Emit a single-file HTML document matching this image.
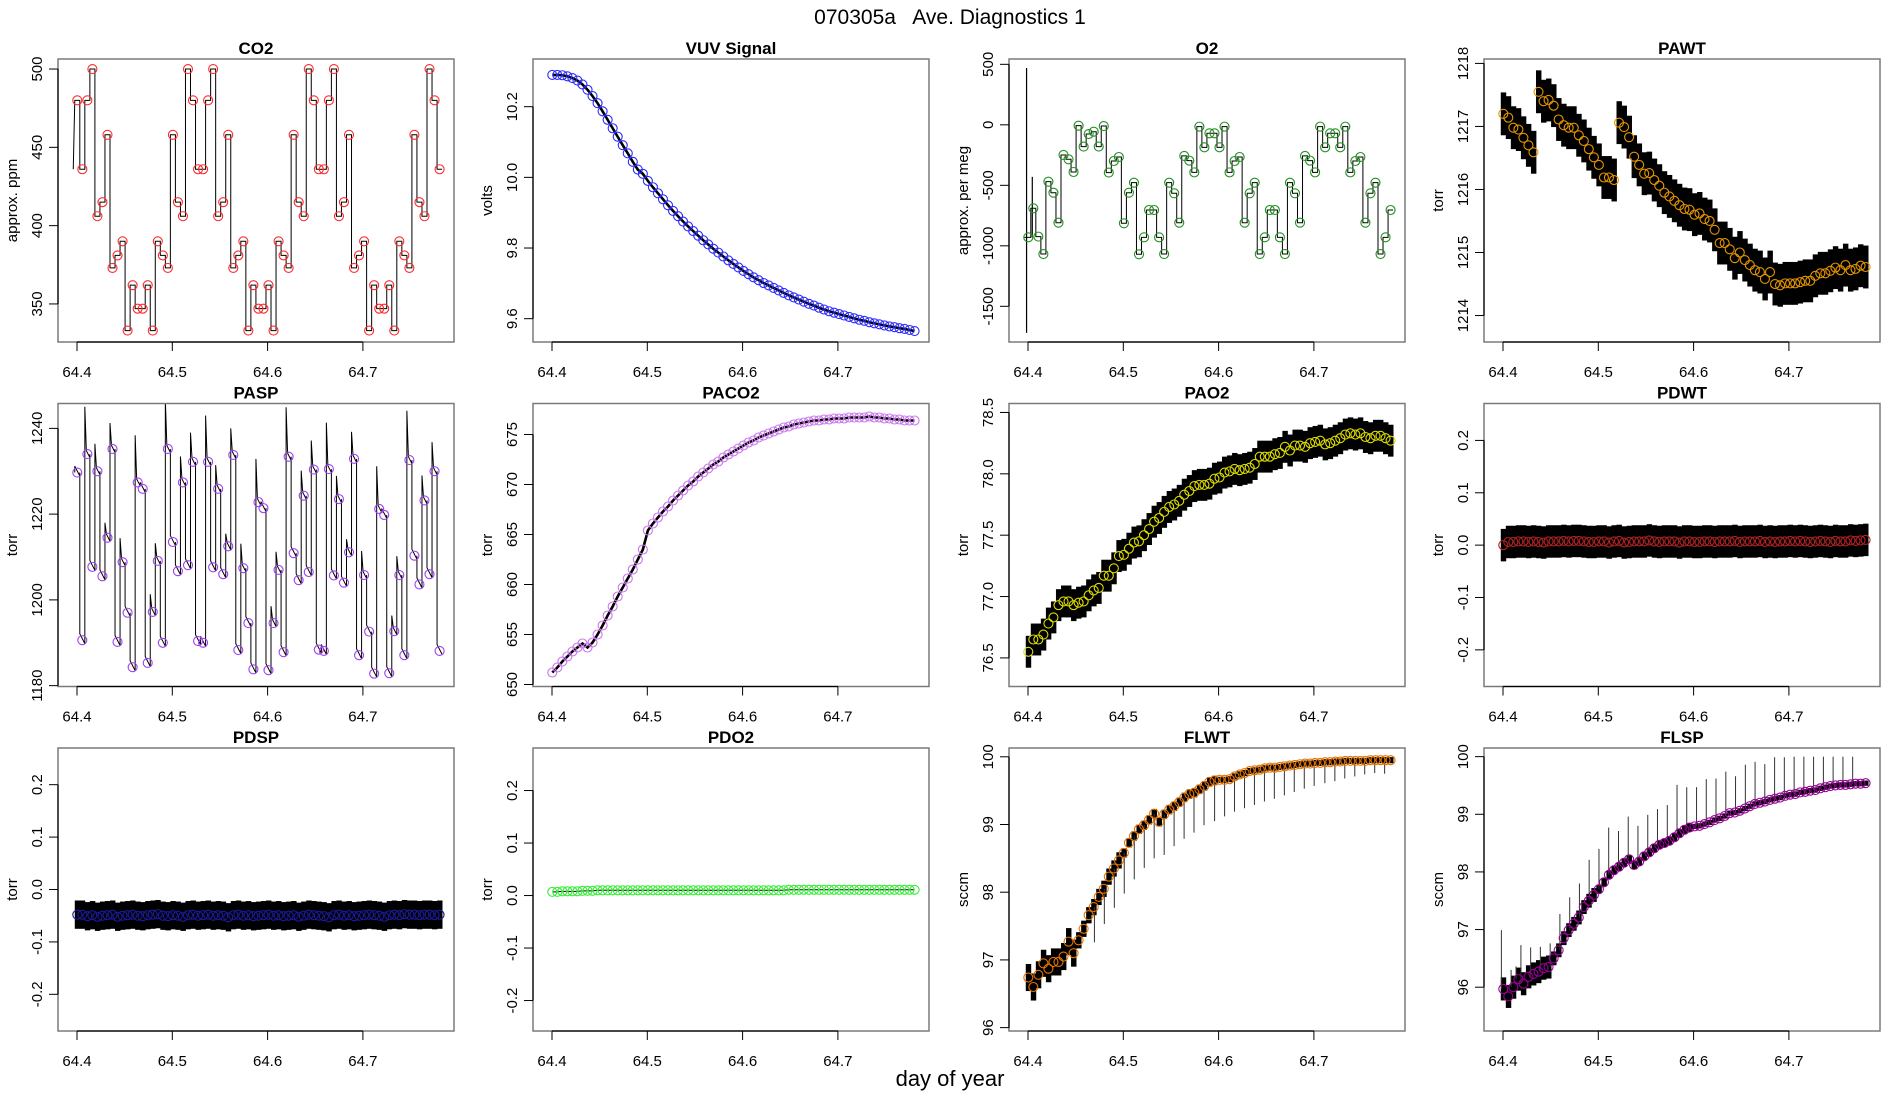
<!DOCTYPE html>
<html><head><meta charset="utf-8"><title>070305a Ave. Diagnostics 1</title>
<style>
html,body{margin:0;padding:0;background:#fff;}
svg{display:block;font-family:"Liberation Sans",Arial,sans-serif;}
</style></head>
<body>
<svg id="fig" width="1900" height="1100" viewBox="0 0 1900 1100" xmlns="http://www.w3.org/2000/svg">
<rect x="0" y="0" width="1900" height="1100" fill="#fff"/>
<text x="950" y="24" text-anchor="middle" font-size="21" xml:space="preserve">070305a   Ave. Diagnostics 1</text>
<text x="950" y="1086" text-anchor="middle" font-size="22">day of year</text>
</svg>
<script>
// ---- data ----
const xTicks = [64.4, 64.5, 64.6, 64.7];
const xTickLabels = ["64.4", "64.5", "64.6", "64.7"];
const tStart = 64.4003;
const tStep = 0.00528;

const co2Vals = [480,436,480,500,406,415,458,373,381,390,333,362,347,347,362,333,390,381,373,458,415,406,500,480,436,436,480,500,406,415,458,373,381,390,333,362,347,347,362,333,390,381,373,458,415,406,500,480,436,436,480,500,406,415,458,373,381,390,333,362,347,347,362,333,390,381,373,458,415,406,500,480,436];
const co2Ticks = [350,400,450,500];
const co2TickLabels = ["350","400","450","500"];

const vuvVals = [10.290,10.290,10.289,10.286,10.281,10.274,10.263,10.248,10.230,10.210,10.187,10.163,10.139,10.115,10.091,10.068,10.044,10.022,10.010,9.990,9.972,9.955,9.938,9.921,9.905,9.890,9.875,9.861,9.848,9.835,9.822,9.810,9.798,9.787,9.776,9.765,9.755,9.745,9.735,9.726,9.717,9.709,9.701,9.694,9.687,9.680,9.673,9.666,9.660,9.654,9.648,9.642,9.637,9.631,9.626,9.621,9.617,9.613,9.609,9.605,9.601,9.597,9.594,9.590,9.587,9.584,9.581,9.578,9.576,9.573,9.571,9.568,9.565];
const vuvTicks = [9.6,9.8,10.0,10.2];
const vuvTickLabels = ["9.6","9.8","10.0","10.2"];

const o2Vals = [-930,-690,-924,-1068,-470,-561,-809,-249,-285,-390,-7,-180,-76,-57,-180,-10,-395,-299,-266,-814,-561,-478,-1070,-930,-704,-704,-930,-1068,-478,-566,-809,-257,-296,-393,-15,-186,-70,-70,-186,-15,-393,-299,-266,-809,-566,-478,-1068,-930,-704,-704,-930,-1068,-478,-566,-809,-257,-296,-393,-15,-186,-70,-70,-186,-15,-393,-299,-266,-809,-566,-478,-1068,-930,-704];
const o2Ticks = [-1500,-1000,-500,0,500];
const o2TickLabels = ["-1500","-1000","-500","0","500"];
const o2SpikeDays = [64.3985, 64.4045];
const o2SpikeLo = [-1720, -930];
const o2SpikeHi = [470, -430];

const pawtVals = [1217.20,1217.14,1216.98,1216.95,1216.82,1216.70,1216.59,1217.55,1217.40,1217.42,1217.33,1217.11,1217.02,1216.98,1216.98,1216.86,1216.77,1216.64,1216.51,1216.39,1216.19,1216.19,1216.15,1217.06,1216.99,1216.83,1216.52,1216.39,1216.25,1216.26,1216.15,1216.06,1215.95,1215.89,1215.82,1215.75,1215.69,1215.68,1215.60,1215.62,1215.53,1215.50,1215.36,1215.15,1215.15,1215.05,1214.91,1215.00,1214.88,1214.80,1214.72,1214.69,1214.58,1214.69,1214.50,1214.48,1214.51,1214.51,1214.51,1214.53,1214.55,1214.55,1214.63,1214.67,1214.67,1214.71,1214.76,1214.72,1214.80,1214.72,1214.74,1214.79,1214.77];
const pawtTicks = [1214,1215,1216,1217,1218];
const pawtTickLabels = ["1214","1215","1216","1217","1218"];

const paspVals = [1229.7,1190.6,1234.0,1207.7,1230.0,1205.5,1214.5,1235.2,1190.2,1208.8,1197.0,1184.3,1227.4,1225.9,1185.3,1197.2,1209.1,1190.0,1235.2,1213.5,1206.7,1227.4,1208.1,1232.2,1190.4,1190.0,1232.2,1207.6,1225.9,1206.0,1212.5,1233.8,1188.3,1207.4,1194.6,1183.8,1222.8,1221.4,1183.6,1194.6,1207.0,1187.8,1233.4,1210.9,1204.6,1224.3,1206.5,1230.4,1188.4,1188.1,1230.5,1205.7,1223.5,1204.0,1211.1,1232.9,1187.1,1205.8,1192.6,1182.8,1221.2,1219.8,1182.9,1192.7,1205.8,1187.1,1232.6,1210.3,1203.6,1223.2,1206.0,1230.0,1188.1];
const paspTicks = [1180,1200,1220,1240];
const paspTickLabels = ["1180","1200","1220","1240"];

const paco2Vals = [651.2,651.7,652.3,652.8,653.3,653.7,654.1,653.7,654.2,655.0,655.9,656.9,657.8,658.8,659.7,660.6,661.5,662.5,663.5,665.4,666.1,666.7,667.3,667.8,668.4,668.9,669.4,669.9,670.3,670.8,671.2,671.6,672.0,672.3,672.7,673.0,673.3,673.6,673.9,674.2,674.4,674.7,674.9,675.1,675.3,675.5,675.7,675.8,676.0,676.1,676.2,676.3,676.4,676.4,676.5,676.5,676.6,676.6,676.6,676.7,676.7,676.7,676.7,676.8,676.7,676.7,676.6,676.6,676.5,676.5,676.4,676.4,676.4];
const paco2Ticks = [650,655,660,665,670,675];
const paco2TickLabels = ["650","655","660","665","670","675"];

const pao2Vals = [76.55,76.65,76.65,76.69,76.78,76.83,76.93,76.96,76.96,76.93,76.95,76.96,77.01,77.05,77.07,77.17,77.17,77.23,77.33,77.34,77.39,77.44,77.45,77.50,77.55,77.61,77.64,77.69,77.73,77.75,77.78,77.83,77.86,77.90,77.91,77.91,77.92,77.96,77.97,78.01,78.02,78.04,78.03,78.04,78.05,78.08,78.14,78.14,78.14,78.16,78.17,78.22,78.19,78.23,78.23,78.22,78.25,78.26,78.27,78.24,78.25,78.27,78.29,78.32,78.33,78.32,78.33,78.30,78.29,78.31,78.31,78.29,78.27];
const pao2Ticks = [76.5,77.0,77.5,78.0,78.5];
const pao2TickLabels = ["76.5","77.0","77.5","78.0","78.5"];

const pdwtVals = [0.000,0.006,0.006,0.007,0.007,0.006,0.007,0.006,0.005,0.007,0.007,0.007,0.008,0.007,0.008,0.008,0.007,0.006,0.006,0.007,0.007,0.005,0.007,0.008,0.005,0.006,0.007,0.007,0.007,0.009,0.007,0.006,0.007,0.007,0.007,0.005,0.007,0.007,0.006,0.006,0.007,0.007,0.006,0.007,0.007,0.007,0.008,0.006,0.007,0.007,0.007,0.008,0.006,0.007,0.006,0.007,0.007,0.008,0.007,0.008,0.007,0.006,0.007,0.008,0.007,0.006,0.008,0.007,0.007,0.009,0.008,0.009,0.010];
const pdspVals = [-0.048,-0.048,-0.051,-0.049,-0.052,-0.050,-0.049,-0.048,-0.052,-0.050,-0.049,-0.048,-0.050,-0.051,-0.049,-0.048,-0.047,-0.050,-0.051,-0.049,-0.050,-0.052,-0.049,-0.048,-0.050,-0.049,-0.048,-0.050,-0.049,-0.050,-0.053,-0.049,-0.048,-0.050,-0.049,-0.051,-0.050,-0.049,-0.048,-0.050,-0.049,-0.051,-0.050,-0.049,-0.052,-0.050,-0.048,-0.049,-0.050,-0.051,-0.053,-0.049,-0.048,-0.050,-0.049,-0.051,-0.050,-0.049,-0.048,-0.049,-0.050,-0.052,-0.049,-0.048,-0.049,-0.047,-0.048,-0.048,-0.049,-0.048,-0.048,-0.049,-0.048];
const pdo2Vals = [0.007,0.007,0.008,0.008,0.008,0.008,0.009,0.009,0.009,0.010,0.010,0.010,0.010,0.010,0.010,0.010,0.010,0.010,0.010,0.010,0.010,0.010,0.010,0.010,0.010,0.010,0.010,0.010,0.010,0.010,0.010,0.010,0.010,0.010,0.010,0.010,0.010,0.010,0.010,0.010,0.010,0.010,0.010,0.010,0.010,0.010,0.010,0.011,0.011,0.011,0.011,0.011,0.011,0.011,0.011,0.011,0.011,0.011,0.011,0.011,0.011,0.011,0.011,0.011,0.011,0.011,0.011,0.011,0.011,0.011,0.011,0.011,0.011];
const pTicks = [-0.2,-0.1,0.0,0.1,0.2];
const pTickLabels = ["-0.2","-0.1","0.0","0.1","0.2"];

const flwtVals = [96.74,96.60,96.78,96.95,96.87,96.97,96.97,97.05,97.27,97.10,97.29,97.46,97.66,97.78,97.93,98.05,98.23,98.35,98.47,98.58,98.73,98.83,98.93,98.99,99.07,99.16,99.04,99.15,99.22,99.27,99.33,99.40,99.45,99.47,99.52,99.57,99.63,99.65,99.66,99.66,99.67,99.71,99.74,99.76,99.79,99.80,99.81,99.83,99.84,99.84,99.85,99.86,99.87,99.88,99.89,99.90,99.90,99.91,99.91,99.92,99.92,99.93,99.93,99.94,99.94,99.94,99.94,99.94,99.95,99.95,99.95,99.95,99.95];
const flwtSpikeDays = [64.4697,64.4801,64.4906,64.5010,64.5115,64.5220,64.5324,64.5429,64.5533,64.5638,64.5742,64.5847,64.5958,64.6063,64.6167,64.6272,64.6376,64.6481,64.6585,64.6690,64.6794,64.6899,64.7003,64.7115,64.7220,64.7324,64.7429,64.7533,64.7638,64.7742];
const flwtSpikeLows = [97.26,97.53,97.77,97.98,98.19,98.36,98.50,98.55,98.68,98.79,98.88,98.99,99.05,99.12,99.19,99.24,99.29,99.34,99.38,99.43,99.48,99.53,99.57,99.61,99.64,99.68,99.71,99.74,99.76,99.75];
const flspVals = [95.97,95.84,96.00,96.14,96.06,96.18,96.23,96.27,96.33,96.35,96.50,96.64,96.85,96.99,97.10,97.21,97.39,97.50,97.60,97.70,97.82,97.95,98.03,98.09,98.16,98.22,98.12,98.18,98.27,98.34,98.41,98.47,98.50,98.54,98.60,98.67,98.73,98.77,98.79,98.80,98.83,98.86,98.90,98.93,98.97,99.02,99.03,99.06,99.10,99.14,99.18,99.20,99.22,99.25,99.27,99.29,99.32,99.34,99.35,99.38,99.39,99.41,99.42,99.45,99.47,99.49,99.50,99.51,99.51,99.52,99.53,99.53,99.54];
const flspSpikeDays = [64.3983,64.4085,64.4137,64.4188,64.4290,64.4392,64.4495,64.4597,64.4700,64.4802,64.4904,64.5007,64.5109,64.5212,64.5314,64.5416,64.5519,64.5621,64.5724,64.5826,64.5928,64.6031,64.6133,64.6235,64.6338,64.6440,64.6543,64.6645,64.6747,64.6850,64.6952,64.7055,64.7157,64.7259,64.7362,64.7464,64.7567,64.7669];
const flspSpikeHighs = [96.99,96.30,96.36,96.73,96.69,96.70,96.76,97.27,97.56,97.80,98.21,98.40,98.77,98.71,98.96,98.80,98.99,99.09,99.16,99.51,99.47,99.47,99.61,99.62,99.74,99.66,99.86,99.91,99.87,99.99,99.99,100.0,100.0,100.0,100.0,100.0,100.0,100.0];
const fTicks = [96,97,98,99,100];
const fTickLabels = ["96","97","98","99","100"];

// ---- layout ----
const colX = [58, 533, 1009, 1484];
const rowY = [59, 403.5, 748];
const PW = 396, PH = 283;
const NS = "http://www.w3.org/2000/svg";
const svg = document.getElementById('fig');

function mk(tag, attrs, parent){
  const e = document.createElementNS(NS, tag);
  for (const k in attrs) e.setAttribute(k, attrs[k]);
  parent.appendChild(e);
  return e;
}
function tOf(i){ return tStart + tStep * i; }
function valAt(vals, t){
  let i = Math.round((t - tStart) / tStep);
  if (i < 0) i = 0;
  if (i > vals.length - 1) i = vals.length - 1;
  return vals[i];
}

const panels = [
  {title:"CO2", ylab:"approx. ppm", col:0,row:0, ymin:325.7, ymax:506.4, ticks:co2Ticks, labels:co2TickLabels, vals:co2Vals, color:"#ff2a2a", kind:"step", id:"co2"},
  {title:"VUV Signal", ylab:"volts", col:1,row:0, ymin:9.534, ymax:10.335, ticks:vuvTicks, labels:vuvTickLabels, vals:vuvVals, color:"#2a2aff", kind:"smooth", id:"vuv"},
  {title:"O2", ylab:"approx. per meg", col:2,row:0, ymin:-1795, ymax:544, ticks:o2Ticks, labels:o2TickLabels, vals:o2Vals, color:"#1f8f1f", kind:"step", id:"o2"},
  {title:"PAWT", ylab:"torr", col:3,row:0, ymin:1213.58, ymax:1218.07, ticks:pawtTicks, labels:pawtTickLabels, vals:pawtVals, color:"#e69500", kind:"band", spread:0.34, id:"pawt"},
  {title:"PASP", ylab:"torr", col:0,row:1, ymin:1179.8, ymax:1245.8, ticks:paspTicks, labels:paspTickLabels, vals:paspVals, color:"#a040f0", kind:"saw", id:"pasp"},
  {title:"PACO2", ylab:"torr", col:1,row:1, ymin:649.8, ymax:678.1, ticks:paco2Ticks, labels:paco2TickLabels, vals:paco2Vals, color:"#cc77ee", kind:"smooth", id:"paco2"},
  {title:"PAO2", ylab:"torr", col:2,row:1, ymin:76.267, ymax:78.573, ticks:pao2Ticks, labels:pao2TickLabels, vals:pao2Vals, color:"#dddd00", kind:"band", spread:0.13, id:"pao2"},
  {title:"PDWT", ylab:"torr", col:3,row:1, ymin:-0.270, ymax:0.2705, ticks:pTicks, labels:pTickLabels, vals:pdwtVals, color:"#b22222", kind:"band", spread:0.031, id:"pdwt"},
  {title:"PDSP", ylab:"torr", col:0,row:2, ymin:-0.270, ymax:0.270, ticks:pTicks, labels:pTickLabels, vals:pdspVals, color:"#1a1a9a", kind:"band", spread:0.027, id:"pdsp"},
  {title:"PDO2", ylab:"torr", col:1,row:2, ymin:-0.258, ymax:0.281, ticks:pTicks, labels:pTickLabels, vals:pdo2Vals, color:"#33ee33", kind:"smooth", thin:true, id:"pdo2"},
  {title:"FLWT", ylab:"sccm", col:2,row:2, ymin:95.95, ymax:100.13, ticks:fTicks, labels:fTickLabels, vals:flwtVals, color:"#e67300", kind:"flow", id:"flwt"},
  {title:"FLSP", ylab:"sccm", col:3,row:2, ymin:95.24, ymax:100.15, ticks:fTicks, labels:fTickLabels, vals:flspVals, color:"#990099", kind:"flow", id:"flsp"}
];

function flowSpread(t){ return t < 64.45 ? 0.2 : (t < 64.5 ? 0.12 : (t < 64.6 ? 0.07 : 0.045)); }

panels.forEach(function(p){
  const L = colX[p.col], T = rowY[p.row];
  const sx = function(t){ return L + 19 + (t - 64.4) * 953; };
  const sy = function(v){ return T + (p.ymax - v) / (p.ymax - p.ymin) * PH; };
  const g = mk('g', {}, svg);
  
  
  const clipId = 'clip-' + p.id;
  const cp = mk('clipPath', {id: clipId}, g);
  mk('rect', {x:L, y:T, width:PW, height:PH}, cp);
  const plot = mk('g', {'clip-path':'url(#' + clipId + ')'}, g);
  
  
  const n = p.vals.length;
  const hs = tStep / 2;

  if (p.kind === 'step') {
    let d = 'M' + sx(tOf(0) - 1.6 * hs) + ' ' + sy(p.vals[0] + (p.id === 'co2' ? -44 : 0));
    for (let i = 0; i < n; i++) {
      const xa = sx(tOf(i) - hs), xb = sx(tOf(i) + hs);
      d += ' L' + xa + ' ' + sy(p.vals[i]) + ' L' + xb + ' ' + sy(p.vals[i]);
    }
    const path = mk('path', {d:d, fill:'none', stroke:'#000', 'stroke-width':1}, plot);
    
    
    if (p.id === 'o2') {
      for (let k = 0; k < o2SpikeDays.length; k++) {
        const sp = mk('line', {x1:sx(o2SpikeDays[k]), x2:sx(o2SpikeDays[k]), y1:sy(o2SpikeLo[k]), y2:sy(o2SpikeHi[k]), stroke:'#000', 'stroke-width':1.2}, plot);
        
        
      }
    }
  } else if (p.kind === 'saw') {
    let d = '';
    for (let i = 0; i < n; i++) {
      const prev = i > 0 ? p.vals[i - 1] : p.vals[i];
      const spike = Math.max(0, (p.vals[i] - prev) * 0.22) + 1.5;
      const xa = sx(tOf(i) - hs), xb = sx(tOf(i) + hs);
      d += (i === 0 ? 'M' : ' L') + xa + ' ' + sy(prev) + ' L' + xa + ' ' + sy(p.vals[i] + spike) + ' L' + sx(tOf(i) - hs * 0.4) + ' ' + sy(p.vals[i] + 0.8) + ' L' + xb + ' ' + sy(p.vals[i] - 0.8);
    }
    const path = mk('path', {d:d, fill:'none', stroke:'#000', 'stroke-width':1}, plot);
    
    
  } else if (p.kind === 'smooth') {
    let d = '';
    for (let i = 0; i < n; i++) d += (i === 0 ? 'M' : ' L') + sx(tOf(i)) + ' ' + sy(p.vals[i]);
    const path = mk('path', {d:d, fill:'none', stroke:'#000', 'stroke-width': p.thin ? 1 : 2.6}, plot);
    
    
  } else if (p.kind === 'band' || p.kind === 'flow') {
    for (let i = 0; i < n; i++) {
      const s = p.kind === 'flow' ? flowSpread(tOf(i)) : p.spread;
      const y1 = sy(p.vals[i] + s), y2 = sy(p.vals[i] - s);
      const r = mk('rect', {x:sx(tOf(i) - hs), y:y1, width:sx(tOf(i) + hs) - sx(tOf(i) - hs) + 0.4, height:y2 - y1, fill:'#000'}, plot);
      
      
    }
    if (p.id === 'flwt') {
      for (let k = 0; k < flwtSpikeDays.length; k++) {
        const base = valAt(flwtVals, flwtSpikeDays[k]);
        const sp = mk('line', {x1:sx(flwtSpikeDays[k]), x2:sx(flwtSpikeDays[k]), y1:sy(flwtSpikeLows[k]), y2:sy(base), stroke:'#333', 'stroke-width':1}, plot);
        
        
      }
    }
    if (p.id === 'flsp') {
      for (let k = 0; k < flspSpikeDays.length; k++) {
        const base = valAt(flspVals, flspSpikeDays[k]);
        const sp = mk('line', {x1:sx(flspSpikeDays[k]), x2:sx(flspSpikeDays[k]), y1:sy(flspSpikeHighs[k]), y2:sy(base), stroke:'#333', 'stroke-width':1}, plot);
        
        
      }
    }
  }

  for (let i = 0; i < n; i++) {
    const c = mk('circle', {cx:sx(tOf(i)), cy:sy(p.vals[i]), r:4.5, fill:'none', stroke:p.color, 'stroke-width':1.1}, plot);
    
    
  }

  const box = mk('rect', {x:L, y:T, width:PW, height:PH, fill:'none', stroke:'#7a7a7a', 'stroke-width':1.5}, g);
  
  

  const xa = mk('line', {x1:sx(xTicks[0]), x2:sx(xTicks[xTicks.length - 1]), y1:T + PH, y2:T + PH, stroke:'#000', 'stroke-width':1.2}, g);
  
  
  xTicks.forEach(function(t, k){
    mk('line', {x1:sx(t), x2:sx(t), y1:T + PH, y2:T + PH + 9, stroke:'#000', 'stroke-width':1}, g);
    const tx = mk('text', {x:sx(t), y:T + PH + 35, 'text-anchor':'middle', 'font-size':15}, g);
    tx.textContent = xTickLabels[k];
    
    
  });

  const ya = mk('line', {x1:L, x2:L, y1:sy(p.ticks[0]), y2:sy(p.ticks[p.ticks.length - 1]), stroke:'#000', 'stroke-width':1.2}, g);
  
  
  p.ticks.forEach(function(v, k){
    mk('line', {x1:L - 9, x2:L, y1:sy(v), y2:sy(v), stroke:'#000', 'stroke-width':1}, g);
    const ty = mk('text', {x:L - 16, y:sy(v), 'text-anchor':'middle', 'font-size':15, transform:'rotate(-90 ' + (L - 16) + ' ' + sy(v) + ')'}, g);
    ty.textContent = p.labels[k];
    
    
  });

  const tt = mk('text', {x:L + PW / 2, y:T - 5, 'text-anchor':'middle', 'font-size':17, 'font-weight':'bold'}, g);
  tt.textContent = p.title;
  
  
  const yl = mk('text', {x:L - 41, y:T + PH / 2, 'text-anchor':'middle', 'font-size':15, transform:'rotate(-90 ' + (L - 41) + ' ' + (T + PH / 2) + ')'}, g);
  yl.textContent = p.ylab;
  
  
});
</script>
</body></html>
